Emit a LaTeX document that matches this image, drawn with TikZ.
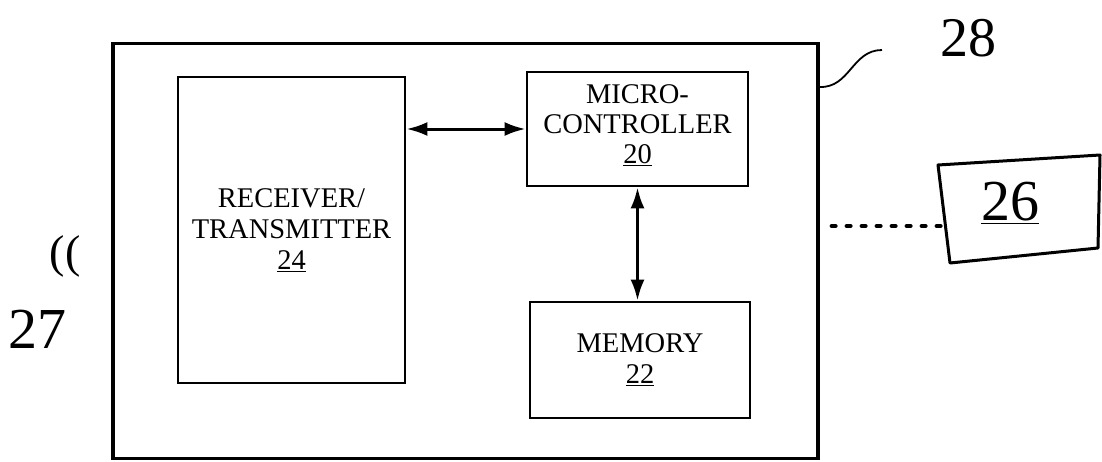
\documentclass[tikz,border=0pt]{standalone}
\usepackage{fontspec}
\setmainfont{Liberation Serif}
\usetikzlibrary{arrows.meta}
\begin{document}
\begin{tikzpicture}[x=1pt,y=-1pt,
  outerbox/.style={draw, line width=3.2pt, inner sep=0pt},
  blk/.style={draw, line width=2.8pt, inner sep=0pt, align=center,
    font=\fontsize{28.5}{31}\selectfont},
  link/.style={line width=3pt, {Latex[length=21pt,width=14pt]}-{Latex[length=21pt,width=14pt]}},
  hand/.style={inner sep=0pt},
  dots/.style={line width=4pt, line cap=round, dash pattern=on 4pt off 11pt}]
\useasboundingbox (0,0) rectangle (1102,461);
% outer device box
\node[outerbox, minimum width=705pt, minimum height=415pt] (dev) at (465.5,251) {};
% inner blocks
\node[blk, minimum width=227pt, minimum height=306pt] (rt) at (291.5,230)
  {RECEIVER/\\TRANSMITTER\\\underline{24}};
\node[blk, minimum width=221pt, minimum height=114pt] (mc) at (637.5,129) {};
\node[inner sep=0pt, align=center, font=\fontsize{28.5}{30}\selectfont] (mctext) at (mc.center) [yshift=4pt]
  {MICRO-\\CONTROLLER\\\underline{20}};
\node[blk, minimum width=220pt, minimum height=116pt] (mem) at (640,360)
  {MEMORY\\\underline{22}};
% connectors
\draw[link] (mc.west -| rt.east) -- (mc.west);
\draw[link] (mc.south) -- (mc.south |- mem.north);
% external unit 26
\coordinate (c1) at (938,165);
\coordinate (c2) at (1100,155);
\coordinate (c3) at (1098,248);
\coordinate (c4) at (950,263);
\draw[line width=3pt, line join=round] (c1) -- (c2) -- (c3) -- (c4) -- cycle;
\node[hand, font=\fontsize{58}{58}\selectfont] (n26) at (1010,203) {\underline{26}};
\coordinate (p26) at (942,226);
\draw[dots] (dev.east |- p26) ++(12pt,0) -- (p26);
% reference 28 and its leader
\node[hand, font=\fontsize{56}{56}\selectfont] (n28) at (968,38) {28};
\coordinate (lead) at (882,50);
\draw[line width=1.8pt] (dev.east |- 0,87) .. controls (850,88) and (852,50) .. (lead);
% reference 27
\node[hand, font=\fontsize{46}{46}\selectfont] (w27) at (65,256) {((};
\node[hand, font=\fontsize{58}{58}\selectfont] (n27) at (38,329) {27};
\end{tikzpicture}
\end{document}
